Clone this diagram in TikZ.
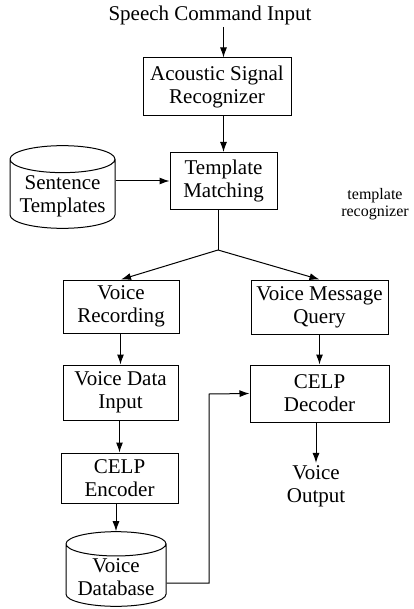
\documentclass[tikz,border=0pt]{standalone}
\usepackage{fontspec}
\setmainfont{Liberation Serif}
\usepackage{tikz}
\usetikzlibrary{shapes.geometric,arrows.meta,positioning,calc}
\tikzset{every node/.append style={align=center}}

\begin{document}
\begin{tikzpicture}[
    x=0.5pt, y=-0.5pt,
    box/.style={draw, line width=0.5pt, inner sep=1pt, font=\fontsize{10.5}{11.5}\selectfont},
    store/.style={draw, line width=0.5pt, cylinder, shape border rotate=90, aspect=0.3, anchor=shape center, inner sep=1pt, font=\fontsize{10.5}{11.5}\selectfont},
    label/.style={inner sep=1pt, font=\fontsize{10.5}{11.5}\selectfont},
    arr/.style={line width=0.5pt, -{Latex[length=5pt,width=3.5pt]}},
]
    \useasboundingbox (0,0) rectangle (413,609);

    % Input and recognition stage
    \node[label] (speech) at (210, 15) {Speech Command Input};
    \node[box, minimum width=74pt, minimum height=29pt] (acoustic) at (217, 87) {Acoustic Signal\\Recognizer};
    \node[box, minimum width=53.5pt, minimum height=28.5pt] (tmatch) at (223.5, 181) {Template\\Matching};
    \node[store, minimum width=52.5pt, minimum height=33.5pt] (sentences) at (62.5, 187) {Sentence\\Templates};
    \node[label, font=\fontsize{8}{8.5}\selectfont] (tmplrec) at (375, 204) {template\\recognizer};

    % Recording branch
    \node[box, minimum width=58pt, minimum height=26.5pt] (vrec) at (121, 306.5) {Voice\\Recording};
    \node[box, minimum width=57.5pt, minimum height=27.5pt] (vdata) at (120.5, 392.5) {Voice Data\\Input};
    \node[box, minimum width=58.5pt, minimum height=25pt] (encoder) at (119.5, 478) {CELP\\Encoder};
    \node[store, minimum width=50pt, minimum height=36pt] (voicedb) at (116, 569) {Voice\\Database};

    % Query branch
    \node[box, minimum width=68.5pt, minimum height=27pt] (vquery) at (319.5, 307) {Voice Message\\Query};
    \node[box, minimum width=69.5pt, minimum height=28.5pt] (decoder) at (319.5, 393.5) {CELP\\Decoder};
    \node[label] (vout) at (316, 486) {Voice\\Output};

    \coordinate (split) at (218, 250);
    \coordinate (bend) at (209, 394);

    % Connections
    \draw[arr] (speech.south -| tmatch.north) -- (acoustic.north -| tmatch.north);
    \draw[arr] (acoustic.south -| tmatch.north) -- (tmatch.north);
    \draw[arr] (sentences.east |- tmatch.west) -- (tmatch.west);
    \draw[line width=0.5pt] (tmatch.south -| split) -- (split);
    \draw[arr] (split) -- (vrec.north);
    \draw[arr] (split) -- (vquery.north);
    \draw[arr] (vrec.south -| vdata.north) -- (vdata.north);
    \draw[arr] (vdata.south -| encoder.north) -- (encoder.north);
    \draw[arr] (encoder.south -| voicedb.north) -- (voicedb.north);
    \draw[arr] (vquery.south -| decoder.north) -- (decoder.north);
    \draw[arr] ([yshift=-3pt]voicedb.east) -| (bend) -- (decoder.west);
    \draw[arr] (decoder.south -| vout) -- (vout.north);

\end{tikzpicture}
\end{document}
